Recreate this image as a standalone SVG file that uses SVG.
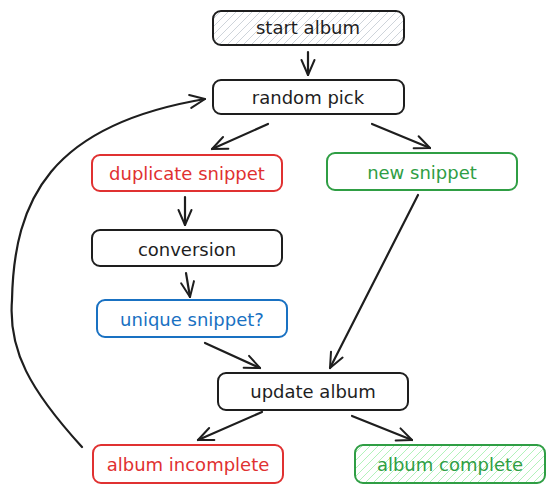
<svg xmlns="http://www.w3.org/2000/svg" width="555" height="493" viewBox="0 0 555 493">
<defs>
<pattern id="hatchGray" patternUnits="userSpaceOnUse" width="8" height="8">
<path d="M-2,2 L2,-2 M0,8 L8,0 M6,10 L10,6" stroke="#ced4da" stroke-width="1"/>
</pattern>
<pattern id="hatchGreen" patternUnits="userSpaceOnUse" width="8" height="8">
<path d="M-2,2 L2,-2 M0,8 L8,0 M6,10 L10,6" stroke="#b2f2bb" stroke-width="1"/>
</pattern>
<marker id="arrow" viewBox="-18 -10 20 20" refX="0" refY="0" markerWidth="20" markerHeight="20" markerUnits="userSpaceOnUse" orient="auto">
<path d="M-15,-6.5 L0,0 L-15,6.5" fill="none" stroke="#1e1e1e" stroke-width="2" stroke-linecap="round" stroke-linejoin="round"/>
</marker>
</defs>
<style>
.box{fill:#ffffff;stroke-width:2;}
.k{stroke:#1e1e1e;}
.r{stroke:#e03131;}
.g{stroke:#2f9e44;}
.b{stroke:#1971c2;}
text{font-family:"DejaVu Sans","Liberation Sans",sans-serif;font-size:18px;text-anchor:middle;dominant-baseline:central;}
.tk{fill:#1e1e1e;}
.tr{fill:#e03131;}
.tg{fill:#2f9e44;}
.tb{fill:#1971c2;}
.edge{fill:none;stroke:#1e1e1e;stroke-width:2.2;stroke-linecap:round;marker-end:url(#arrow);}
</style>
<g id="connectors">
<path class="edge" d="M308,52 L308,75"/>
<path class="edge" d="M268,124 L212,149"/>
<path class="edge" d="M372,124 L430,148"/>
<path class="edge" d="M185,197 L185,225"/>
<path class="edge" d="M186,273 L190,297"/>
<path class="edge" d="M205,343 L260,368"/>
<path class="edge" d="M418,195 L330,368"/>
<path class="edge" d="M262,412 L198,440"/>
<path class="edge" d="M352,416 L412,440"/>
<path class="edge" d="M82,447 C30,390 8,350 12,300 C14,200 50,125 205,99"/>
</g>
<g id="start-album">
<rect class="box k" x="213" y="11" width="191" height="34" rx="8" style="fill:url(#hatchGray)"/>
<text class="tk" x="308" y="27">start album</text>
</g>
<g id="random-pick">
<rect class="box k" x="213" y="80" width="191" height="34" rx="8"/>
<text class="tk" x="308" y="97">random pick</text>
</g>
<g id="duplicate-snippet">
<rect class="box r" x="92" y="155" width="190" height="36" rx="8"/>
<text class="tr" x="187" y="173">duplicate snippet</text>
</g>
<g id="new-snippet">
<rect class="box g" x="327" y="153" width="190" height="37" rx="8"/>
<text class="tg" x="422" y="172">new snippet</text>
</g>
<g id="conversion">
<rect class="box k" x="92" y="230" width="190" height="36" rx="8"/>
<text class="tk" x="187" y="249">conversion</text>
</g>
<g id="unique-snippet">
<rect class="box b" x="97" y="300" width="190" height="37" rx="8"/>
<text class="tb" x="192" y="319">unique snippet?</text>
</g>
<g id="update-album">
<rect class="box k" x="218" y="373" width="190" height="37" rx="8"/>
<text class="tk" x="313" y="391">update album</text>
</g>
<g id="album-incomplete">
<rect class="box r" x="93" y="445" width="190" height="38" rx="8"/>
<text class="tr" x="188" y="464">album incomplete</text>
</g>
<g id="album-complete">
<rect class="box g" x="355" y="445" width="190" height="38" rx="8" style="fill:url(#hatchGreen)"/>
<text class="tg" x="450" y="464">album complete</text>
</g>
</svg>
